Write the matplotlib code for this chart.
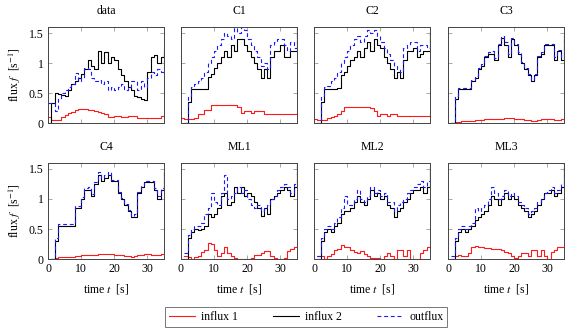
import numpy as np
import matplotlib
matplotlib.use("Agg")
import matplotlib.pyplot as plt

plt.rcParams['font.family'] = ['Liberation Serif', 'DejaVu Serif']
plt.rcParams['mathtext.fontset'] = 'stix'
plt.rcParams['font.size'] = 8.5

nan = np.nan
t = list(range(36))

titles = ['data', 'C1', 'C2', 'C3', 'C4', 'ML1', 'ML2', 'ML3']

red_data = [0.1, 0.05, 0.05, 0.05, 0.1, 0.14, 0.16, 0.19, 0.22, 0.24, 0.24, 0.23, 0.22, 0.21, 0.2, 0.18, 0.17, 0.15,
            0.1, 0.1, 0.12, 0.12, 0.1, 0.1, 0.12, 0.12, 0.12, 0.09, 0.09, 0.09, 0.09, 0.09, 0.09, 0.09, 0.12, 0.13]
blk_data = [0.0, 0.33, 0.5, 0.48, 0.47, 0.45, 0.55, 0.65, 0.7, 0.75, 0.82, 0.9, 1.05, 0.95, 0.9, 1.2, 1.0, 1.18,
            1.0, 1.1, 1.05, 0.9, 0.8, 0.7, 0.6, 0.55, 0.45, 0.43, 0.4, 0.38, 0.85, 1.1, 1.13, 1.0, 1.1, 1.2]
blu_data = [0.33, 0.33, 0.2, 0.4, 0.5, 0.55, 0.6, 0.65, 0.83, 0.7, 0.75, 0.92, 0.9, 0.75, 0.7, 0.72, 0.65, 0.7,
            0.55, 0.6, 0.55, 0.6, 0.65, 0.55, 0.6, 0.7, 0.7, 0.55, 0.7, 0.6, 0.75, 0.85, 0.8, 0.9, 0.85, 1.25]

red_c1 = [0.08, 0.06, 0.06, 0.06, 0.08, 0.15, 0.15, 0.22, 0.22, 0.3, 0.3, 0.3, 0.3, 0.3, 0.3, 0.3, 0.3, 0.27,
          0.17, 0.2, 0.2, 0.16, 0.2, 0.2, 0.2, 0.15, 0.15, 0.15, 0.15, 0.15, 0.15, 0.15, 0.15, 0.15, 0.15, 0.2]
blk_c1 = [nan, 0.0, 0.35, 0.56, 0.56, 0.56, 0.56, 0.56, 0.76, 0.82, 0.91, 1.0, 1.1, 1.2, 1.1, 1.3, 1.2, 1.4,
          1.4, 1.3, 1.2, 1.1, 1.0, 0.9, 0.75, 0.9, 0.75, 1.1, 1.2, 1.2, 1.3, 1.1, 1.1, 1.2, 1.2, 1.55]
blu_c1 = [nan, 0.0, 0.45, 0.6, 0.65, 0.7, 0.75, 0.85, 1.0, 1.1, 1.2, 1.3, 1.4, 1.5, 1.45, 1.4, 1.58, 1.5,
          1.6, 1.55, 1.4, 1.3, 1.2, 1.1, 0.95, 1.0, 0.9, 1.3, 1.35, 1.4, 1.4, 1.3, 1.2, 1.35, 1.25, 1.6]

red_c2 = [0.06, 0.05, 0.05, 0.05, 0.08, 0.1, 0.12, 0.15, 0.2, 0.27, 0.27, 0.27, 0.27, 0.27, 0.27, 0.27, 0.27, 0.25,
          0.2, 0.12, 0.15, 0.15, 0.12, 0.15, 0.15, 0.12, 0.12, 0.12, 0.12, 0.12, 0.12, 0.12, 0.12, 0.12, 0.12, 0.17]
blk_c2 = [nan, 0.0, 0.35, 0.56, 0.56, 0.56, 0.56, 0.58, 0.8, 0.85, 0.95, 1.05, 1.1, 1.2, 1.1, 1.25, 1.35, 1.2,
          1.4, 1.3, 1.25, 1.1, 1.0, 0.9, 0.75, 0.85, 0.75, 1.05, 1.2, 1.2, 1.25, 1.1, 1.15, 1.2, 1.2, 1.5]
blu_c2 = [nan, 0.0, 0.45, 0.6, 0.62, 0.7, 0.75, 0.85, 1.0, 1.1, 1.2, 1.3, 1.4, 1.45, 1.35, 1.45, 1.55, 1.5,
          1.55, 1.45, 1.35, 1.25, 1.15, 1.05, 0.95, 0.9, 0.85, 1.25, 1.3, 1.35, 1.35, 1.2, 1.3, 1.3, 1.25, 1.55]

red_c3 = [nan, 0.0, 0.01, 0.02, 0.03, 0.03, 0.04, 0.04, 0.05, 0.05, 0.05, 0.06, 0.06, 0.06, 0.07, 0.07, 0.07, 0.08,
          0.08, 0.08, 0.07, 0.07, 0.06, 0.05, 0.05, 0.04, 0.04, 0.05, 0.06, 0.06, 0.06, 0.06, 0.05, 0.05, 0.06, 0.06]
blk_c3 = [nan, 0.0, 0.4, 0.56, 0.56, 0.56, 0.56, 0.7, 0.75, 0.9, 0.95, 1.1, 1.15, 1.15, 1.05, 1.3, 1.42, 1.3,
          1.1, 1.4, 1.3, 1.15, 1.0, 0.9, 0.8, 0.7, 0.8, 1.1, 1.15, 1.3, 1.3, 1.3, 1.05, 1.2, 1.05, 1.45]
blu_c3 = [nan, 0.0, 0.45, 0.58, 0.58, 0.58, 0.58, 0.72, 0.78, 0.92, 0.98, 1.12, 1.18, 1.2, 1.08, 1.32, 1.45, 1.35,
          1.15, 1.42, 1.32, 1.18, 1.02, 0.92, 0.82, 0.72, 0.82, 1.12, 1.18, 1.32, 1.32, 1.32, 1.1, 1.22, 1.1, 1.45]

red_c4 = [nan, 0.0, 0.02, 0.03, 0.03, 0.04, 0.04, 0.04, 0.05, 0.05, 0.06, 0.06, 0.07, 0.07, 0.07, 0.08, 0.08, 0.08,
          0.08, 0.08, 0.07, 0.07, 0.06, 0.05, 0.05, 0.04, 0.05, 0.06, 0.07, 0.08, 0.08, 0.07, 0.07, 0.07, 0.08, 0.08]
blk_c4 = [nan, 0.0, 0.3, 0.55, 0.55, 0.55, 0.55, 0.55, 0.85, 0.85, 1.0, 1.15, 1.15, 1.05, 1.25, 1.4, 1.3, 1.35,
          1.4, 1.3, 1.3, 1.1, 1.0, 0.9, 0.8, 0.7, 0.7, 1.1, 1.2, 1.28, 1.28, 1.28, 1.15, 1.0, 1.15, 1.45]
blu_c4 = [nan, 0.0, 0.35, 0.58, 0.58, 0.58, 0.58, 0.58, 0.88, 0.88, 1.03, 1.18, 1.2, 1.08, 1.28, 1.45, 1.35, 1.4,
          1.45, 1.32, 1.32, 1.12, 1.02, 0.92, 0.82, 0.72, 0.75, 1.12, 1.22, 1.3, 1.3, 1.3, 1.18, 1.05, 1.18, 1.45]

red_ml1 = [nan, 0.05, 0.03, 0.0, 0.03, 0.05, 0.12, 0.15, 0.27, 0.25, 0.15, 0.05, 0.1, 0.2, 0.1, 0.05, 0.02, 0.0,
           0.0, 0.0, 0.0, 0.02, 0.07, 0.07, 0.1, 0.13, 0.13, 0.05, 0.02, 0.0, 0.0, 0.02, 0.13, 0.17, 0.2, 0.22]
blk_ml1 = [nan, 0.0, 0.35, 0.45, 0.5, 0.48, 0.5, 0.55, 0.75, 0.7, 0.75, 0.85, 1.05, 1.1, 0.9, 0.95, 1.2, 1.1,
           1.2, 1.05, 1.1, 1.05, 0.95, 0.85, 0.72, 0.85, 0.75, 1.0, 1.05, 1.1, 1.15, 1.2, 1.15, 1.05, 1.2, 1.6]
blu_ml1 = [nan, 0.1, 0.4, 0.5, 0.55, 0.55, 0.6, 0.75, 0.85, 1.1, 0.95, 0.9, 1.1, 1.4, 1.0, 1.05, 1.1, 1.2,
           1.1, 1.15, 1.0, 0.9, 0.85, 0.9, 0.8, 0.85, 0.9, 1.0, 1.05, 1.15, 1.2, 1.25, 1.2, 1.1, 1.25, 1.6]

red_ml2 = [nan, 0.05, 0.05, 0.0, 0.05, 0.08, 0.15, 0.17, 0.23, 0.2, 0.2, 0.15, 0.12, 0.1, 0.13, 0.08, 0.05, 0.02,
           0.02, 0.02, 0.0, 0.05, 0.1, 0.05, 0.0, 0.15, 0.15, 0.05, 0.15, 0.0, 0.0, 0.0, 0.1, 0.15, 0.2, 0.22]
blk_ml2 = [nan, 0.0, 0.3, 0.45, 0.5, 0.45, 0.55, 0.6, 0.75, 0.8, 0.8, 0.85, 0.95, 1.05, 0.95, 0.9, 1.0, 1.15,
           1.05, 1.1, 1.0, 1.05, 0.9, 0.85, 0.7, 0.8, 0.85, 0.95, 1.0, 1.1, 1.15, 1.15, 1.2, 1.1, 1.2, 1.5]
blu_ml2 = [nan, 0.05, 0.35, 0.5, 0.55, 0.5, 0.6, 0.7, 0.85, 1.05, 0.9, 0.9, 1.0, 1.15, 1.0, 0.95, 1.05, 1.2,
           1.1, 1.15, 1.05, 1.1, 0.95, 0.95, 0.8, 0.9, 0.95, 1.0, 1.1, 1.15, 1.2, 1.25, 1.3, 1.2, 1.3, 1.55]

red_ml3 = [nan, 0.0, 0.05, 0.07, 0.05, 0.05, 0.1, 0.2, 0.22, 0.2, 0.2, 0.19, 0.18, 0.17, 0.17, 0.16, 0.15, 0.12,
           0.1, 0.05, 0.02, 0.05, 0.1, 0.1, 0.05, 0.15, 0.15, 0.05, 0.15, 0.05, 0.0, 0.12, 0.15, 0.2, 0.2, 0.2]
blk_ml3 = [nan, 0.0, 0.3, 0.45, 0.5, 0.45, 0.5, 0.55, 0.65, 0.7, 0.75, 0.8, 0.9, 1.05, 1.0, 0.9, 1.0, 1.1,
           1.0, 1.05, 1.0, 0.9, 0.85, 0.8, 0.7, 0.75, 0.8, 0.9, 1.0, 1.1, 1.1, 1.15, 1.05, 1.1, 1.2, 1.6]
blu_ml3 = [nan, 0.05, 0.35, 0.5, 0.55, 0.5, 0.55, 0.6, 0.85, 0.8, 0.85, 0.9, 1.0, 1.2, 1.1, 1.0, 1.05, 1.15,
           1.05, 1.1, 1.05, 0.95, 0.9, 0.85, 0.75, 0.8, 0.85, 0.95, 1.0, 1.1, 1.15, 1.2, 1.1, 1.15, 1.25, 1.6]

reds = [red_data, red_c1, red_c2, red_c3, red_c4, red_ml1, red_ml2, red_ml3]
blacks = [blk_data, blk_c1, blk_c2, blk_c3, blk_c4, blk_ml1, blk_ml2, blk_ml3]
blues = [blu_data, blu_c1, blu_c2, blu_c3, blu_c4, blu_ml1, blu_ml2, blu_ml3]

W, H = 565, 334
fig = plt.figure(figsize=(W / 100, H / 100), dpi=100)

lefts = [48, 181, 314, 448]
tops = [27, 163]
aw, ah = 116, 96

for i in range(8):
    r, c = divmod(i, 4)
    ax = fig.add_axes([lefts[c] / W, 1 - (tops[r] + ah) / H, aw / W, ah / H])
    ax.plot(t, reds[i], color='#ff1a1a', lw=0.8, drawstyle='steps-post', label='influx 1')
    ax.plot(t, blacks[i], color='black', lw=0.8, drawstyle='steps-post', label='influx 2')
    ax.plot(t, blues[i], color='#1a1aff', lw=0.8, ls=(0, (3.5, 2.5)), drawstyle='steps-post', label='outflux')
    ax.set_xlim(0, 35)
    ax.set_ylim(0, 1.6)
    ax.set_xticks([0, 10, 20, 30])
    ax.set_yticks([0, 0.5, 1, 1.5])
    ax.set_yticklabels(['0', '0.5', '1', '1.5'])
    ax.tick_params(direction='in', length=3, width=0.6, color='#999999', top=True, right=True, labelsize=8.5, pad=3)
    for s in ax.spines.values():
        s.set_color('#444444')
        s.set_linewidth(0.7)
    ax.set_title(titles[i], fontsize=8.5, pad=9)
    if r == 0:
        ax.tick_params(labelbottom=False)
    else:
        ax.set_xlabel(r'time $t$  [s]', fontsize=8.5, labelpad=5)
    if c == 0:
        ax.set_ylabel(r'flux $f$  [s$^{-1}$]', fontsize=8.5)
    else:
        ax.tick_params(labelleft=False)
    if i == 0:
        handles, labels = ax.get_legend_handles_labels()

leg = fig.legend(handles, labels, loc='center', bbox_to_anchor=(306 / W, 1 - 317 / H), ncol=3,
                 frameon=True, fancybox=False, edgecolor='#555555', fontsize=8.5, handlelength=2.2,
                 columnspacing=3.0, borderpad=0.35, handletextpad=0.5)
leg.get_frame().set_linewidth(0.7)

fig.savefig('out.png', dpi=100)
